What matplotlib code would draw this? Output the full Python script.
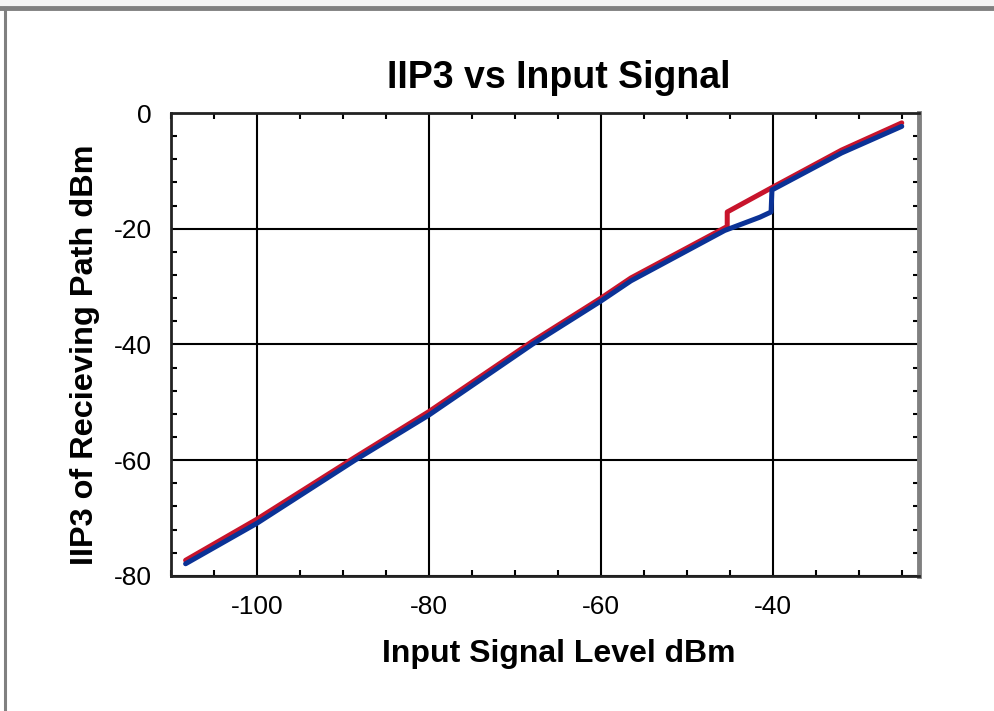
import numpy as np
from matplotlib import pyplot as plt
from matplotlib.ticker import MultipleLocator
from matplotlib.lines import Line2D

plt.rcParams["font.family"] = ["Liberation Sans", "DejaVu Sans"]
plt.rcParams["axes.unicode_minus"] = False

# red trace (upper)
red_x = [-108.3, -100.0, -88.6, -80.0, -68.0, -60.0, -56.5, -45.3, -45.3, -40.0, -32.0, -25.0]
red_y = [-77.3, -70.2, -59.5, -51.6, -39.5, -32.0, -28.5, -19.6, -17.1, -12.8, -6.4, -1.7]

# blue trace (lower)
blue_x = [-108.3, -100.0, -88.6, -80.0, -68.0, -60.0, -56.5, -45.6, -41.5, -40.2, -40.1, -32.0, -25.0]
blue_y = [-77.9, -70.9, -60.0, -52.2, -40.0, -32.5, -29.0, -20.3, -18.0, -17.1, -13.3, -6.9, -2.3]

x_ticks = [-100, -80, -60, -40]
y_ticks = [0, -20, -40, -60, -80]

fig = plt.figure(figsize=(9.94, 7.11), dpi=100)
ax = fig.add_axes([0.172, 0.190, 0.7525, 0.651])

# gray frame on top and left of the figure
fig.patches.append(plt.Rectangle((0, 1 - 6 / 711), 1, 6 / 711, transform=fig.transFigure,
                                 facecolor="#f4f4f4", edgecolor="none", zorder=0))
fig.lines.append(Line2D([0, 1], [1 - 8 / 711, 1 - 8 / 711], transform=fig.transFigure,
                        color="#808080", lw=3.5))
fig.lines.append(Line2D([5 / 994, 5 / 994], [0, 1 - 8 / 711], transform=fig.transFigure,
                        color="#808080", lw=2.2))

ax.plot(red_x, red_y, color="#c8142c", lw=3.6, solid_capstyle="round", zorder=3)
ax.plot(blue_x, blue_y, color="#0b3296", lw=3.6, solid_capstyle="round", zorder=4)

ax.set_xlim(-110, -23)
ax.set_ylim(-80, 0)
ax.set_xticks(x_ticks)
ax.set_yticks(y_ticks)
ax.xaxis.set_minor_locator(MultipleLocator(5))
ax.yaxis.set_minor_locator(MultipleLocator(4))
ax.grid(True, which="major", color="black", lw=1.5)
ax.tick_params(which="major", length=0, labelsize=19)
ax.tick_params(axis="x", which="major", pad=14)
ax.tick_params(axis="y", which="major", pad=14)
ax.tick_params(which="minor", direction="in", length=4, width=1.5,
               top=True, right=True)

for side in ["left", "top", "bottom"]:
    ax.spines[side].set_linewidth(2)
    ax.spines[side].set_color("#222222")
ax.spines["right"].set_linewidth(3.5)
ax.spines["right"].set_color("#808080")

ax.set_title("IIP3 vs Input Signal", fontsize=27, fontweight="bold", pad=18, x=0.519)
ax.set_xlabel("Input Signal Level dBm", fontsize=23, fontweight="bold", labelpad=14, x=0.519)
ax.set_ylabel("IIP3 of Recieving Path dBm", fontsize=23.4, fontweight="bold", labelpad=10, y=0.477)

plt.savefig("out.png", dpi=100)
